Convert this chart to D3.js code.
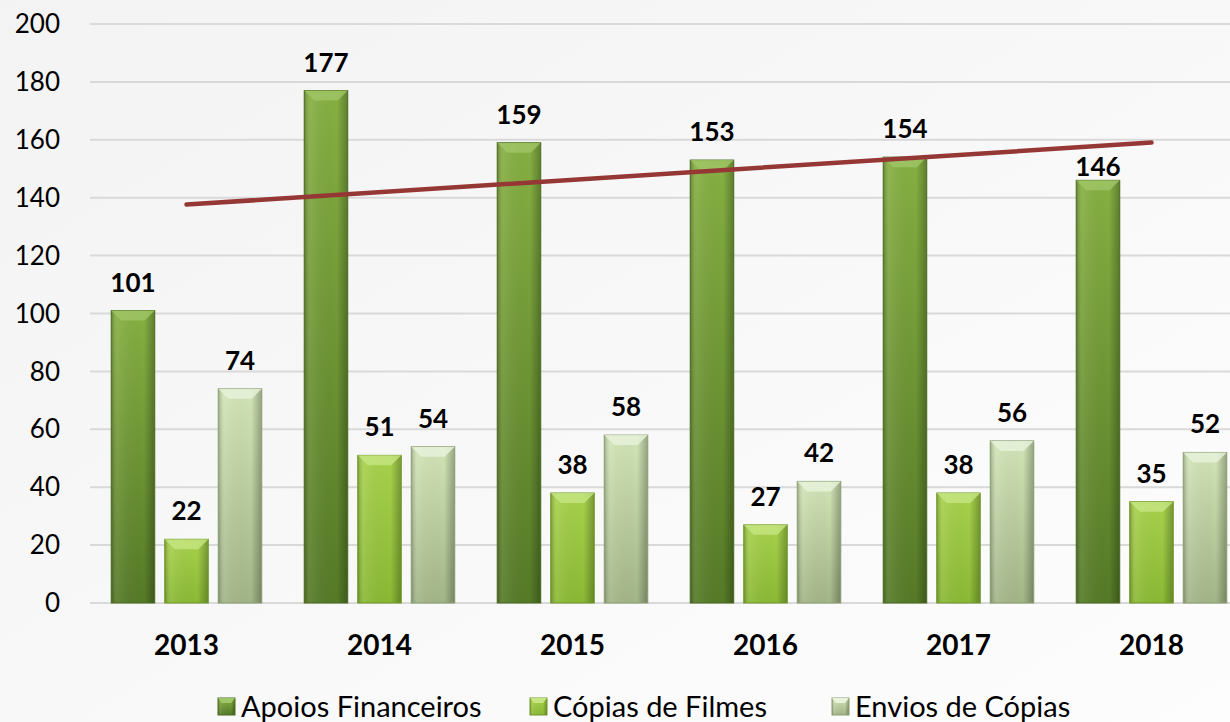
<!DOCTYPE html>
<html>
<head>
<meta charset="utf-8">
<script src="https://cdn.jsdelivr.net/npm/d3@7"></script>
<style>
  body { margin: 0; background: #fff; }
  svg { display: block; }
</style>
</head>
<body>
<svg width="1230" height="722"></svg>
<script>
const years = ['2013', '2014', '2015', '2016', '2017', '2018']
const seriesNames = ['Apoios Financeiros', 'Cópias de Filmes', 'Envios de Cópias']
const apoios = [101, 177, 159, 153, 154, 146]
const copias = [22, 51, 38, 27, 38, 35]
const envios = [74, 54, 58, 42, 56, 52]
const yTicks = [0, 20, 40, 60, 80, 100, 120, 140, 160, 180, 200]

const series = [apoios, copias, envios]

const svg = d3.select('svg')
const width = +svg.attr('width')
const height = +svg.attr('height')
const font = 'Lato, "Open Sans", sans-serif'

// background with soft gradient
const defs = svg.append('defs')
const bg = defs.append('linearGradient').attr('id', 'bg')
  .attr('x1', 0).attr('y1', 0).attr('x2', 1).attr('y2', 1)
bg.append('stop').attr('offset', '0%').attr('stop-color', '#f3f3f3')
bg.append('stop').attr('offset', '100%').attr('stop-color', '#fdfdfd')
svg.append('rect').attr('width', width).attr('height', height).attr('fill', 'url(#bg)')

const palette = [
  { top: '#86b042', bottom: '#557a27', edge: '#4a6b20', bevel: '#a0c566' },
  { top: '#a8d24c', bottom: '#8ab934', edge: '#6e9826', bevel: '#c6e683' },
  { top: '#d2e5b7', bottom: '#a2b587', edge: '#8a9e70', bevel: '#e9f3dc' }
]
palette.forEach((c, i) => {
  const g = defs.append('linearGradient').attr('id', 'bar' + i)
    .attr('x1', 0).attr('y1', 0).attr('x2', 0).attr('y2', 1)
  g.append('stop').attr('offset', '0%').attr('stop-color', c.top)
  g.append('stop').attr('offset', '100%').attr('stop-color', c.bottom)
})
const side = defs.append('linearGradient').attr('id', 'side')
  .attr('x1', 0).attr('y1', 0).attr('x2', 1).attr('y2', 0)
side.append('stop').attr('offset', '0%').attr('stop-color', '#000').attr('stop-opacity', 0.25)
side.append('stop').attr('offset', '14%').attr('stop-color', '#fff').attr('stop-opacity', 0.08)
side.append('stop').attr('offset', '75%').attr('stop-color', '#000').attr('stop-opacity', 0)
side.append('stop').attr('offset', '100%').attr('stop-color', '#000').attr('stop-opacity', 0.28)

const x0 = d3.scaleBand().domain(years).range([90, 1248])
  .paddingInner(0.22).paddingOuter(0.11)
const x1 = d3.scaleBand().domain(d3.range(3)).range([0, x0.bandwidth()])
  .paddingInner(0.187).paddingOuter(0)
const y = d3.scaleLinear().domain([0, 200]).range([603, 24])

// linear trend of Apoios Financeiros
const xs = d3.range(years.length)
const mx = d3.mean(xs)
const my = d3.mean(apoios)
const slope = d3.sum(xs, i => (i - mx) * (apoios[i] - my)) / d3.sum(xs, i => (i - mx) ** 2)
const trend = xs.map(i => ({ year: years[i], value: my + slope * (i - mx) }))
const ends = [trend[0], trend[trend.length - 1]]

// gridlines
svg.append('g')
  .selectAll('line')
  .data(yTicks)
  .enter()
  .append('line')
  .attr('x1', 90).attr('x2', width)
  .attr('y1', d => y(d)).attr('y2', d => y(d))
  .attr('stroke', '#d9d9d9').attr('stroke-width', 2)

// y tick labels
svg.append('g')
  .selectAll('text')
  .data(yTicks)
  .enter()
  .append('text')
  .attr('x', 60).attr('y', d => y(d))
  .attr('dy', '0.35em')
  .attr('text-anchor', 'end')
  .attr('font-family', font).attr('font-size', 26)
  .attr('fill', '#000')
  .text(d => d)

// bars
const groups = svg.append('g')
  .selectAll('g')
  .data(years)
  .enter()
  .append('g')
  .attr('transform', d => `translate(${x0(d)},0)`)

const bw = x1.bandwidth()
const labels = []
groups.each(function (year, yi) {
  const g = d3.select(this)
  series.forEach((vals, si) => {
    const v = vals[yi]
    const bx = x1(si)
    const by = y(v)
    const bh = y(0) - by
    g.append('rect')
      .attr('x', bx).attr('y', by)
      .attr('width', bw).attr('height', bh)
      .attr('fill', `url(#bar${si})`)
    g.append('rect')
      .attr('x', bx).attr('y', by)
      .attr('width', bw).attr('height', bh)
      .attr('fill', 'url(#side)')
      .attr('stroke', palette[si].edge).attr('stroke-width', 1)
    // top bevel
    const bev = Math.min(10, bh / 2)
    g.append('path')
      .attr('d', `M${bx},${by} L${bx + bw},${by} L${bx + bw - bev},${by + bev} L${bx + bev},${by + bev} Z`)
      .attr('fill', palette[si].bevel).attr('opacity', 0.8)
    // label sits just above the bar when the trend line would cross it
    const tv = trend[yi].value
    const near = si === 0 && tv - v > 5 && y(tv) > by - 45
    labels.push({ x: x0(year) + bx + bw / 2, y: by - (near ? 4 : 19), v })
  })
})

// category labels
svg.append('g')
  .selectAll('text')
  .data(years)
  .enter()
  .append('text')
  .attr('x', d => x0(d) + x0.bandwidth() / 2)
  .attr('y', 655)
  .attr('text-anchor', 'middle')
  .attr('font-family', font).attr('font-size', 28).attr('font-weight', 'bold')
  .attr('fill', '#000')
  .text(d => d)

svg.append('path')
  .datum(ends)
  .attr('d', d3.line()
    .x(d => x0(d.year) + x0.bandwidth() / 2)
    .y(d => y(d.value)))
  .attr('fill', 'none')
  .attr('stroke', '#953735').attr('stroke-width', 4.5)
  .attr('stroke-linecap', 'round')

// value labels
svg.append('g')
  .selectAll('text')
  .data(labels)
  .enter()
  .append('text')
  .attr('x', d => d.x).attr('y', d => d.y)
  .attr('text-anchor', 'middle')
  .attr('font-family', font).attr('font-size', 26).attr('font-weight', 'bold')
  .attr('fill', '#000')
  .text(d => d.v)

// legend
const legendX = [218, 530, 832]
const legend = svg.append('g')
  .selectAll('g')
  .data(seriesNames)
  .enter()
  .append('g')
  .attr('transform', (d, i) => `translate(${legendX[i]},698)`)
legend.append('rect')
  .attr('x', 0).attr('y', 0).attr('width', 17).attr('height', 17)
  .attr('fill', (d, i) => `url(#bar${i})`)
legend.append('rect')
  .attr('x', 0).attr('y', 0).attr('width', 17).attr('height', 17)
  .attr('fill', 'url(#side)')
  .attr('stroke', (d, i) => palette[i].edge)
legend.append('path')
  .attr('d', 'M0,0 L17,0 L13,5 L4,5 Z')
  .attr('fill', (d, i) => palette[i].bevel)
legend.append('text')
  .attr('x', 23).attr('y', 9)
  .attr('dy', '0.35em')
  .attr('font-family', font).attr('font-size', 29)
  .attr('fill', '#000')
  .text(d => d)
</script>
</body>
</html>
